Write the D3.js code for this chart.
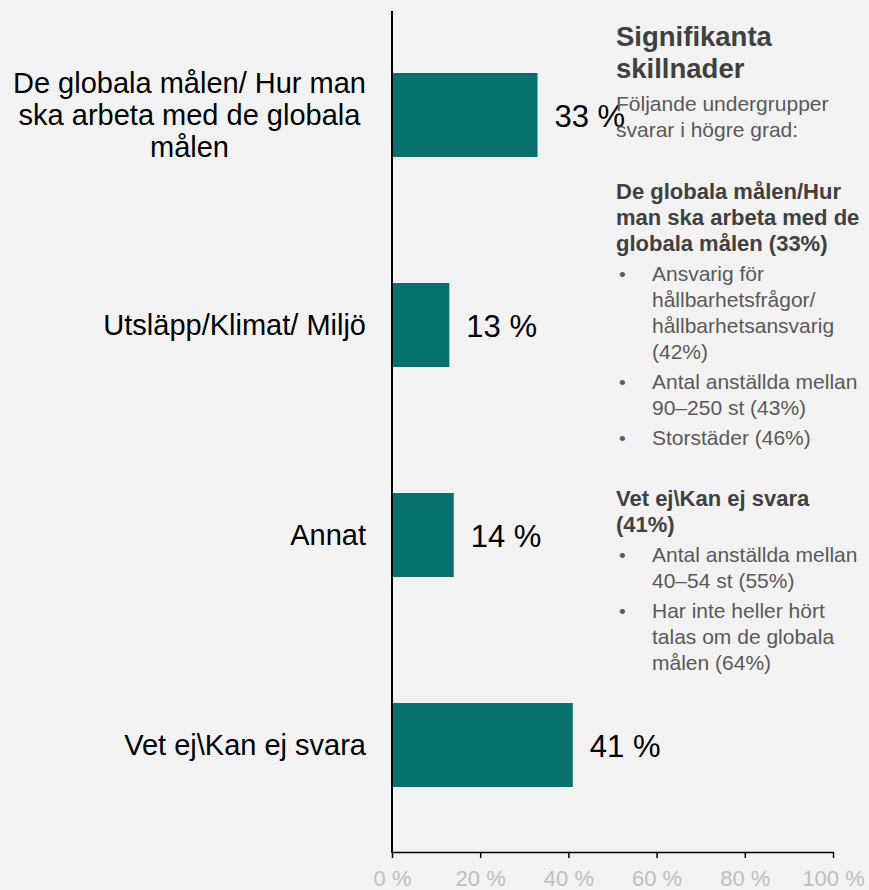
<!DOCTYPE html>
<html>
<head>
<meta charset="utf-8">
<script src="https://cdn.jsdelivr.net/npm/d3@7"></script>
<style>
  body { margin: 0; background: #f2f2f2; }
  svg { display: block; font-family: "Liberation Sans", Arial, sans-serif; }
</style>
</head>
<body>
<main></main>
<script>
// data
var categories = ["De globala målen/ Hur man ska arbeta med de globala målen", "Utsläpp/Klimat/ Miljö", "Annat", "Vet ej\\Kan ej svara"];
var values = [33, 13, 14, 41];
var tickValues = [0, 20, 40, 60, 80, 100];

// side panel text
var panelTitle = ["Signifikanta", "skillnader"];
var panelIntro = ["Följande undergrupper", "svarar i högre grad:"];
var group1Head = ["De globala målen/Hur", "man ska arbeta med de", "globala målen (33%)"];
var group1Items = [["Ansvarig för", "hållbarhetsfrågor/", "hållbarhetsansvarig", "(42%)"], ["Antal anställda mellan", "90–250 st (43%)"], ["Storstäder (46%)"]];
var group2Head = ["Vet ej\\Kan ej svara", "(41%)"];
var group2Items = [["Antal anställda mellan", "40–54 st (55%)"], ["Har inte heller hört", "talas om de globala", "målen (64%)"]];

var svg = d3.select("main").append("svg").attr("width", 869).attr("height", 890),
    width = +svg.attr("width"),
    height = +svg.attr("height");

svg.append("rect").attr("width", width).attr("height", height).attr("fill", "#f2f2f2");

var x = d3.scaleLinear().domain([0, 100]).range([392, 833]);
var y = d3.scaleBand().domain(categories).range([10, 850]).paddingInner(0.6).paddingOuter(0.3);

// bars
svg.append("g").selectAll("rect")
    .data(values)
    .enter().append("rect")
    .attr("x", x(0))
    .attr("y", (d, i) => y(categories[i]))
    .attr("width", d => x(d) - x(0))
    .attr("height", y.bandwidth())
    .attr("fill", "#07716e");

// value labels
svg.append("g").selectAll("text")
    .data(values)
    .enter().append("text")
    .attr("x", d => x(d) + 17)
    .attr("y", (d, i) => y(categories[i]) + y.bandwidth() / 2)
    .attr("dy", "0.38em")
    .attr("font-size", 31)
    .attr("fill", "#000")
    .text(d => d + " %");

// x axis
var xAxis = svg.append("g")
    .attr("transform", "translate(0,852)")
    .call(d3.axisBottom(x).tickValues(tickValues).tickSize(6).tickSizeOuter(0).tickPadding(12).tickFormat(d => d + " %"));
xAxis.select(".domain").attr("stroke", "#000").attr("stroke-width", 1.5);
xAxis.selectAll(".tick line").attr("stroke", "#000").attr("stroke-width", 1.5);
xAxis.selectAll(".tick text").attr("font-size", 22).attr("fill", "#bfbfbf").attr("font-family", "Liberation Sans, Arial, sans-serif");

// y axis line
svg.append("line")
    .attr("x1", x(0)).attr("x2", x(0))
    .attr("y1", 11).attr("y2", 852.75)
    .attr("stroke", "#000").attr("stroke-width", 2);

// category labels, wrapped and centred in a box ending at 366
var catFont = 29, lineH = 32, boxRight = 366, maxW = 362;
categories.forEach(function(c, i) {
    var t = svg.append("text").attr("font-size", catFont).attr("fill", "#000").attr("text-anchor", "middle");
    var words = c.split(" "), lines = [], line = [];
    var probe = svg.append("text").attr("font-size", catFont);
    words.forEach(function(w) {
        line.push(w);
        probe.text(line.join(" "));
        if (probe.node().getComputedTextLength() > maxW && line.length > 1) {
            line.pop();
            lines.push(line.join(" "));
            line = [w];
        }
    });
    lines.push(line.join(" "));
    var widest = 0;
    lines.forEach(function(l) {
        probe.text(l);
        widest = Math.max(widest, probe.node().getComputedTextLength());
    });
    probe.remove();
    var cx = boxRight - widest / 2;
    var cy = y(c) + y.bandwidth() / 2;
    var y0 = cy - (lines.length - 1) * lineH / 2;
    lines.forEach(function(l, j) {
        t.append("tspan").attr("x", cx).attr("y", y0 + j * lineH).attr("dy", "0.36em").text(l);
    });
});

// side panel
var panel = svg.append("g");
var px = 616, bulletX = 619, itemX = 652;
function addLines(lines, x0, yStart, step, size, weight, color) {
    lines.forEach(function(l, j) {
        panel.append("text")
            .attr("x", x0).attr("y", yStart + j * step)
            .attr("font-size", size).attr("font-weight", weight).attr("fill", color)
            .text(l);
    });
    return yStart + (lines.length - 1) * step;
}
addLines(panelTitle, px, 46, 32, 27.5, "bold", "#404040");
addLines(panelIntro, px, 111, 26, 21, "normal", "#595959");

function addGroup(head, items, yStart) {
    var yy = addLines(head, px, yStart, 26, 22, "bold", "#404040");
    items.forEach(function(it) {
        yy += 30;
        panel.append("text").attr("x", bulletX).attr("y", yy)
            .attr("font-size", 19).attr("fill", "#595959").text("•");
        yy = addLines(it, itemX, yy, 26, 21, "normal", "#595959");
    });
}
addGroup(group1Head, group1Items, 199);
addGroup(group2Head, group2Items, 506);
</script>
</body>
</html>
